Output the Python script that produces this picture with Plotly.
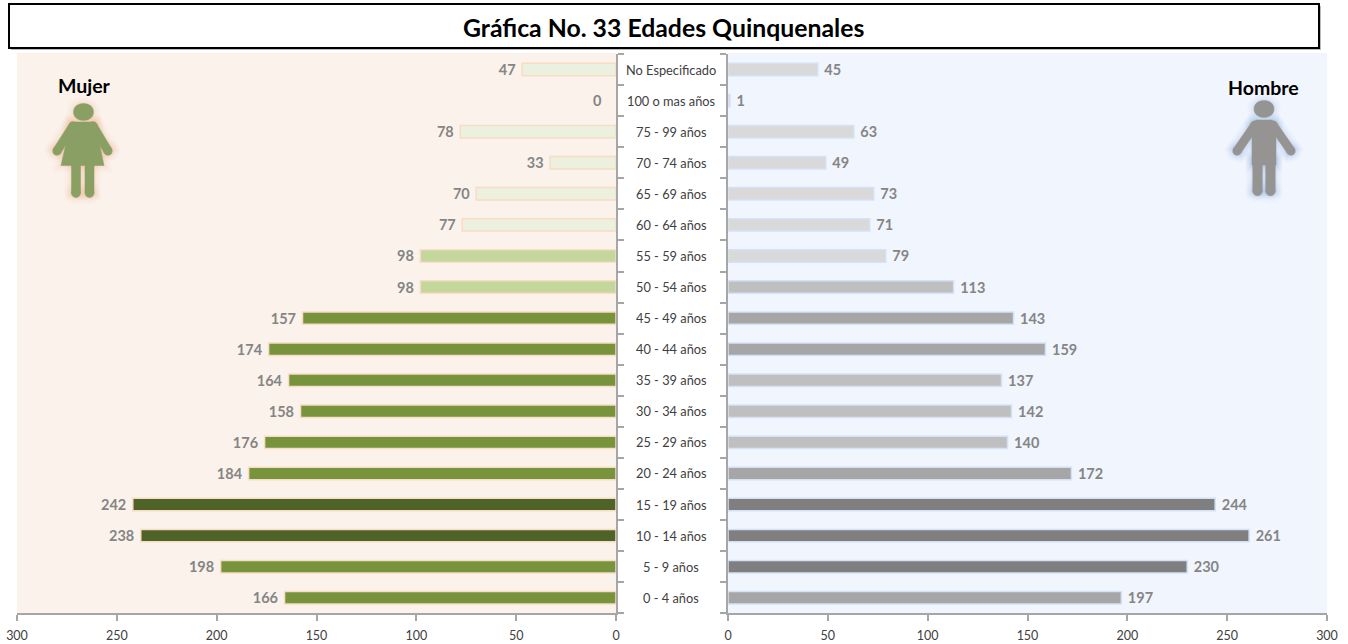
import math
import plotly.graph_objects as go

categories = ["0 - 4 años", "5 - 9 años", "10 - 14 años", "15 - 19 años", "20 - 24 años", "25 - 29 años",
              "30 - 34 años", "35 - 39 años", "40 - 44 años", "45 - 49 años", "50 - 54 años", "55 - 59 años",
              "60 - 64 años", "65 - 69 años", "70 - 74 años", "75 - 99 años", "100 o mas años", "No Especificado"]
mujer = [166, 198, 238, 242, 184, 176, 158, 164, 174, 157, 98, 98, 77, 70, 33, 78, 0, 47]
hombre = [197, 230, 261, 244, 172, 140, 142, 137, 159, 143, 113, 79, 71, 73, 49, 63, 1, 45]

G_PALE, G_MID, G_MAIN, G_DARK = "#EBF1DE", "#C3D69B", "#77933C", "#4F6228"
K_PALE, K_MID, K_MAIN, K_DARK = "#D9D9D9", "#BFBFBF", "#A6A6A6", "#7F7F7F"
colores_mujer = [G_MAIN, G_MAIN, G_DARK, G_DARK, G_MAIN, G_MAIN, G_MAIN, G_MAIN, G_MAIN, G_MAIN,
                 G_MID, G_MID, G_PALE, G_PALE, G_PALE, G_PALE, G_PALE, G_PALE]
colores_hombre = [K_MAIN, K_DARK, K_DARK, K_DARK, K_MAIN, K_MID, K_MID, K_MID, K_MAIN, K_MAIN,
                  K_MID, K_PALE, K_PALE, K_PALE, K_PALE, K_PALE, K_PALE, K_PALE]

W, H = 1348, 644
FONT = "Lato, Carlito, Calibri, sans-serif"
AXIS = "#A6A6A6"
LABEL = "#858585"
def px(x): return x / W
def py(y): return 1 - y / H

fig = go.Figure()
label_font = dict(color=LABEL, size=14.5, family=FONT, weight="bold")
fig.add_trace(go.Bar(y=categories, x=mujer, orientation="h", xaxis="x", yaxis="y",
                     marker=dict(color=colores_mujer,
                                 line=dict(color="#F8DCC4", width=[1.5 if v else 0 for v in mujer])),
                     text=[f"{v}\u00a0" if v else "" for v in mujer], textposition="outside",
                     cliponaxis=False, constraintext="none",
                     textfont=label_font, hoverinfo="x+y", showlegend=False))
fig.add_trace(go.Bar(y=categories, x=hombre, orientation="h", xaxis="x2", yaxis="y2",
                     marker=dict(color=colores_hombre, line=dict(color="#D5E2F5", width=1.5)),
                     text=[f"\u00a0{v}" for v in hombre], textposition="outside",
                     cliponaxis=False, constraintext="none",
                     textfont=label_font, hoverinfo="x+y", showlegend=False))

shapes = []
def rect(x0, y0, x1, y1, **kw):
    shapes.append(dict(type="rect", xref="paper", yref="paper", x0=px(x0), x1=px(x1), y0=py(y1), y1=py(y0), **kw))

rect(17, 53, 616, 613, fillcolor="#FBF2EC", line=dict(width=0), layer="below")
rect(728, 53, 1327, 613, fillcolor="#F1F5FE", line=dict(width=0), layer="below")
rect(11, 6, 1321, 50, fillcolor="#BBBBBB", line=dict(width=0), layer="below")
rect(9, 4, 1319, 48, fillcolor="#FFFFFF", line=dict(color="#000000", width=2), layer="below")

def path(points, close=True):
    s = ""
    for i, (x, y) in enumerate(points):
        s += ("M" if i == 0 else "L") + f"{px(x):.5f},{py(y):.5f} "
    return s + ("Z" if close else "")

def ellipse(cx, cy, rx, ry):
    return (f"M{px(cx-rx):.5f},{py(cy):.5f} "
            f"C{px(cx-rx):.5f},{py(cy-ry*1.33):.5f} {px(cx+rx):.5f},{py(cy-ry*1.33):.5f} {px(cx+rx):.5f},{py(cy):.5f} "
            f"C{px(cx+rx):.5f},{py(cy+ry*1.33):.5f} {px(cx-rx):.5f},{py(cy+ry*1.33):.5f} {px(cx-rx):.5f},{py(cy):.5f} Z")

def limb(x0, y0, x1, y1, w):
    """A rounded limb: a thick segment plus round caps at both ends."""
    dx, dy = x1 - x0, y1 - y0
    n = math.hypot(dx, dy)
    ox, oy = -dy / n * w / 2, dx / n * w / 2
    return [path([(x0 + ox, y0 + oy), (x1 + ox, y1 + oy), (x1 - ox, y1 - oy), (x0 - ox, y0 - oy)]),
            ellipse(x0, y0, w / 2, w / 2), ellipse(x1, y1, w / 2, w / 2)]

def icon(parts, color, glow):
    for w, op in [(14, 0.03), (10, 0.05), (6, 0.07), (3, 0.10)]:
        for d in parts:
            shapes.append(dict(type="path", path=d, xref="paper", yref="paper", fillcolor=glow, opacity=op,
                               line=dict(color=glow, width=w), layer="below"))
    for d in parts:
        shapes.append(dict(type="path", path=d, xref="paper", yref="paper", fillcolor=color,
                           line=dict(color=color, width=0.5), layer="above"))

# Mujer icon
icon([ellipse(83.5, 112, 10, 8.5),
      path([(71, 122), (95, 122), (104, 165.5), (61, 165.5)])]
     + limb(73, 126, 57, 151, 8.5) + limb(93, 126, 108, 151, 8.5)
     + limb(76, 160, 76, 193, 9) + limb(89.5, 160, 89.5, 193, 9),
     "#8A9F64", "#F4B183")
# Hombre icon
icon([ellipse(1264, 109, 10, 8.5),
      path([(1256, 120), (1272, 120), (1276, 126), (1276, 165), (1252, 165), (1252, 126)])]
     + limb(1255, 125, 1237, 151, 8.5) + limb(1273, 125, 1291, 151, 8.5)
     + limb(1257.5, 160, 1257.5, 191, 9.5) + limb(1270.5, 160, 1270.5, 191, 9.5),
     "#969492", "#8DB4E2")

def note(text, x, y, size, yref="paper"):
    return dict(text=text, xref="paper", yref=yref, x=px(x), y=py(y) if yref == "paper" else y, showarrow=False,
                xanchor="center", yanchor="middle", font=dict(family=FONT, size=size, color="#000000"))

annotations = [note("<b>Gráfica No. 33 Edades Quinquenales</b>", 664, 28, 24.8),
               note("<b>Mujer</b>", 84, 85, 19.5),
               note("<b>Hombre</b>", 1263, 87, 19.5)]
for c in categories:
    a = note(c, 671, c, 12.8, yref="y")
    a["font"]["color"] = "#404040"
    annotations.append(a)
for c, v in zip(categories, mujer):
    if v == 0:
        annotations.append(dict(text=f"{v}", xref="x", yref="y", x=v, y=c, xshift=-19, showarrow=False,
                                xanchor="center", yanchor="middle", font=label_font))

tick = dict(family=FONT, size=12.5, color="#404040")
axis_x = dict(tick0=0, dtick=50, showgrid=False, zeroline=False, showline=True, linecolor=AXIS, linewidth=1.5,
              ticks="outside", ticklen=6, tickcolor=AXIS, tickwidth=1.5, tickfont=tick, automargin=False,
              ticklabelstandoff=4)
axis_y = dict(type="category", categoryorder="array", categoryarray=categories, showgrid=False, zeroline=False,
              showline=True, linecolor=AXIS, linewidth=1.5, ticks="outside", ticklen=6, tickcolor=AXIS, tickwidth=1.5,
              tickson="boundaries", showticklabels=False, automargin=False)

fig.update_layout(
    width=W, height=H, margin=dict(l=0, r=0, t=0, b=0), autosize=False,
    paper_bgcolor="#FFFFFF", plot_bgcolor="rgba(0,0,0,0)", bargap=0.6, showlegend=False,
    font=dict(family=FONT),
    xaxis={**axis_x, "domain": [px(17), px(616)], "range": [300, 0], "anchor": "y"},
    xaxis2={**axis_x, "domain": [px(728), px(1327)], "range": [0, 300], "anchor": "y2"},
    yaxis={**axis_y, "domain": [py(613.3), py(54)], "anchor": "x", "side": "right"},
    yaxis2={**axis_y, "domain": [py(613.3), py(54)], "anchor": "x2", "side": "left"},
    shapes=shapes, annotations=annotations,
)
fig.write_html("out.html", config={"displayModeBar": False},
               post_script="document.body.style.margin='0';document.body.style.overflow='hidden';")
